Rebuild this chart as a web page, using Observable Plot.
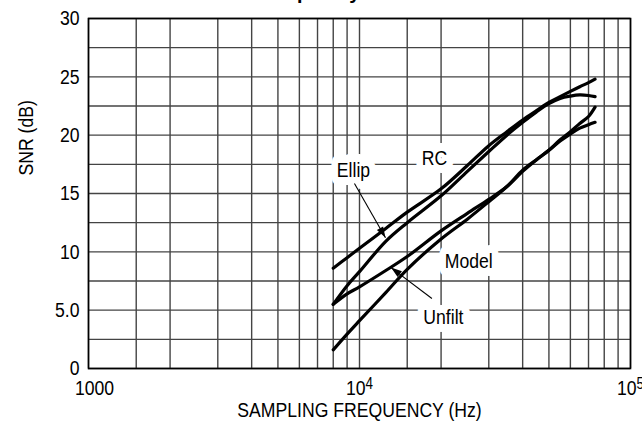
<!DOCTYPE html>
<html><head><meta charset="utf-8">
<script src="https://cdn.jsdelivr.net/npm/d3@7"></script>
<script src="https://cdn.jsdelivr.net/npm/@observablehq/plot@0.6"></script>
<style>
html,body{margin:0;padding:0;background:#fff;}
#wrap{position:relative;width:642px;height:426px;overflow:hidden;}
#chart{position:absolute;left:0;top:0;}
#title{position:absolute;left:178px;top:-18px;font:bold 20px "Liberation Sans",Arial,sans-serif;line-height:20px;white-space:nowrap;color:#000;}
</style></head><body>
<div id="wrap"><div id="chart"></div><div id="title">SNR vs. Frequency</div></div>
<script>
// ---- data ----
const freqs = [8000, 9000, 10000, 12500, 15000, 20000, 25000, 30000, 35000, 40000, 45000, 50000, 55000, 60000, 65000, 70000, 74000];
const rcSNR     = [8.6, 9.5, 10.3, 12.0, 13.4, 15.4, 17.4, 19.1, 20.3, 21.3, 22.1, 22.8, 23.3, 23.75, 24.15, 24.5, 24.8];
const ellipSNR  = [5.5, 7.1, 8.3, 10.9, 12.5, 14.8, 16.9, 18.6, 20.0, 21.1, 22.0, 22.7, 23.15, 23.35, 23.45, 23.4, 23.3];
const modelSNR  = [5.5, 6.4, 7.0, 8.4, 9.6, 11.8, 13.3, 14.5, 15.6, 16.9, 17.9, 18.7, 19.5, 20.1, 20.6, 20.9, 21.1];
const unfiltSNR = [1.6, 2.95, 4.1, 6.5, 8.5, 11.1, 12.8, 14.3, 15.6, 17.0, 17.9, 18.7, 19.6, 20.3, 21.0, 21.6, 22.4];
const seriesNames = ["RC", "Ellip", "Model", "Unfilt"];
const seriesValues = [rcSNR, ellipSNR, modelSNR, unfiltSNR];

const xGrid = [1000, 1500, 2000, 3000, 4000, 5000, 6000, 7000, 8000, 9000, 10000,
               15000, 20000, 30000, 40000, 50000, 60000, 70000, 80000, 90000, 100000];
const yGrid = [0, 2.5, 5, 7.5, 10, 12.5, 15, 17.5, 20, 22.5, 25, 27.5, 30];
const yTicks = [0, 5, 10, 15, 20, 25, 30];
const yTickLabels = ["0", "5.0", "10", "15", "20", "25", "30"];
const xTicks = [1000, 10000, 100000];
const xTickLabels = ["1000", "10^4", "10^5"];

const labelNames = ["Ellip", "RC", "Model", "Unfilt"];
const labelFreq  = [9500, 18900, 25300, 20400];
const labelSNR   = [17.0, 18.0, 9.2, 4.4];

const arrowNames    = ["Ellip", "Unfilt"];
const arrowFromFreq = [9580, 18500];
const arrowFromSNR  = [15.85, 6.0];
const arrowToFreq   = [12470, 13070];
const arrowToSNR    = [11.2, 8.65];

const xTitle = "SAMPLING FREQUENCY (Hz)";
const yTitle = "SNR (dB)";

// ---- tables built from the arrays ----
const curves = seriesNames.flatMap((s, k) => freqs.map((f, i) => ({series: s, f, snr: seriesValues[k][i]})));
const labels = labelNames.map((t, i) => ({t, f: labelFreq[i], snr: labelSNR[i]}));
const arrows = arrowNames.map((n, i) => ({n, f1: arrowFromFreq[i], s1: arrowFromSNR[i], f2: arrowToFreq[i], s2: arrowToSNR[i]}));

const FONT = "'Liberation Sans',Arial,sans-serif";
const FS = 21;
const NARROW = 0.84; // horizontal squeeze to imitate a narrow sans

const headSymbol = {
  draw(ctx) {
    const L = 11, w = 3.6;
    ctx.moveTo(0, 0);
    ctx.lineTo(-w, L);
    ctx.lineTo(w, L);
    ctx.closePath();
  }
};

function makePlot(heads) {
  return Plot.plot({
    width: 642,
    height: 426,
    marginLeft: 88,
    marginRight: 12,
    marginTop: 18,
    marginBottom: 58,
    style: {fontFamily: FONT, fontSize: FS + "px", background: "#fff", color: "#000"},
    x: {type: "log", domain: [1000, 100000]},
    y: {domain: [0, 30]},
    marks: [
      Plot.ruleX(xGrid, {stroke: "#444", strokeWidth: 1.4}),
      Plot.ruleY(yGrid, {stroke: "#444", strokeWidth: 1.4}),
      Plot.frame({stroke: "#000", strokeWidth: 1.6}),
      Plot.axisY(yTicks, {tickSize: 0, tickPadding: 9, fontSize: FS, fontFamily: FONT,
        tickFormat: d => yTickLabels[yTicks.indexOf(d)], label: null}),
      Plot.axisX(xTicks, {tickSize: 0, tickPadding: 12, fontSize: FS, fontFamily: FONT,
        tickFormat: d => xTickLabels[xTicks.indexOf(d)], label: null}),
      Plot.text([yTitle], {frameAnchor: "left", rotate: -90, dx: -62, dy: -18, fontSize: FS, fontFamily: FONT, fill: "#000"}),
      Plot.text([xTitle], {frameAnchor: "bottom", dy: 48, fontSize: FS, fontFamily: FONT, fill: "#000"}),
      // white boxes behind labels (hide the grid)
      Plot.text(labels, {x: "f", y: "snr", text: "t", fontSize: FS, fontFamily: FONT,
        fill: "#fff", stroke: "#fff", strokeWidth: 16, strokeLinejoin: "round"}),
      Plot.line(curves, {x: "f", y: "snr", z: "series", stroke: "#000", strokeWidth: 3.2,
        curve: "catmull-rom", strokeLinecap: "round", strokeLinejoin: "round"}),
      Plot.link(arrows, {x1: "f1", y1: "s1", x2: "f2", y2: "s2", stroke: "#000", strokeWidth: 1.1}),
      heads ? Plot.dot(heads, {x: "f2", y: "s2", symbol: headSymbol, r: 5, fill: "#000", stroke: "none", rotate: "angle"}) : null,
      Plot.text(labels, {x: "f", y: "snr", text: "t", fontSize: FS, fontFamily: FONT, fill: "#000"})
    ]
  });
}

const first = makePlot(null);
const sx = first.scale("x"), sy = first.scale("y");
const heads = arrows.map(a => {
  const dx = sx.apply(a.f2) - sx.apply(a.f1);
  const dy = sy.apply(a.s2) - sy.apply(a.s1);
  return {...a, angle: Math.atan2(dx, -dy) * 180 / Math.PI};
});
const chart = makePlot(heads);

// superscript exponents on the log tick labels; first tick label sits right of its tick as in the original
chart.querySelectorAll("text").forEach(t => {
  const m = t.textContent.match(/^10\^(\d)$/);
  if (m) {
    t.textContent = "10";
    const ts = document.createElementNS("http://www.w3.org/2000/svg", "tspan");
    ts.setAttribute("dy", "-0.42em");
    ts.setAttribute("font-size", "16");
    ts.textContent = m[1];
    t.appendChild(ts);
  } else if (t.textContent === xTickLabels[0] && t.closest('[aria-label="x-axis tick label"]')) {
    t.setAttribute("dx", "6");
  }
});
document.getElementById("chart").appendChild(chart);

// squeeze every text horizontally about its anchor point (narrow-font look)
chart.querySelectorAll("text").forEach(t => {
  const bb = t.getBBox();
  const anchor = getComputedStyle(t).textAnchor;
  const cx = anchor === "middle" ? bb.x + bb.width / 2 : anchor === "end" ? bb.x + bb.width : bb.x;
  const prev = t.getAttribute("transform") || "";
  t.setAttribute("transform", `${prev} translate(${cx},0) scale(${NARROW},1) translate(${-cx},0)`.trim());
});
</script>
</body></html>
